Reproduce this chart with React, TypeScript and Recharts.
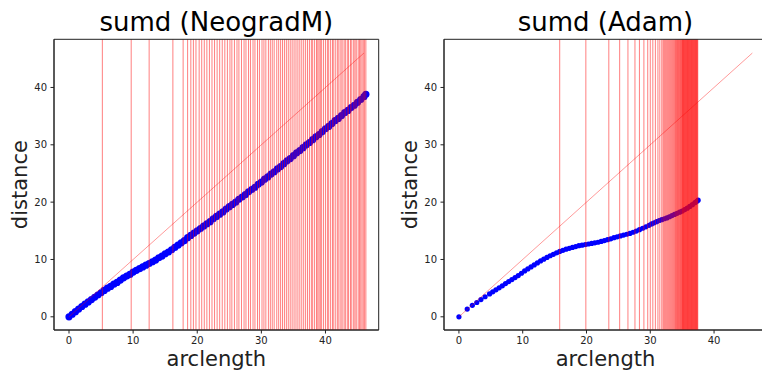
import { ScatterChart, Scatter, XAxis, YAxis, ReferenceLine, ReferenceArea } from 'recharts';

const xTicks = [0, 10, 20, 30, 40];
const yTicks = [0, 10, 20, 30, 40];
const xDomain = [-2.34, 48.3];
const yDomain = [-2.3, 48.4];
const diagonalEnd = 46;

// NeogradM: arclength vs distance
const neogradArc = [
    0, 0.5, 1, 1.5, 2, 2.5, 3, 3.5, 4, 4.5, 5, 5.5, 6, 6.5, 7, 7.5, 8, 8.5, 9, 9.5,
    10, 10.5, 11, 11.5, 12, 12.5, 13, 13.5, 14, 14.5, 15, 15.5, 16, 16.5, 17, 17.5, 18, 18.5, 19, 19.5,
    20, 20.5, 21, 21.5, 22, 22.5, 23, 23.5, 24, 24.5, 25, 25.5, 26, 26.5, 27, 27.5, 28, 28.5, 29, 29.5,
    30, 30.5, 31, 31.5, 32, 32.5, 33, 33.5, 34, 34.5, 35, 35.5, 36, 36.5, 37, 37.5, 38, 38.5, 39, 39.5,
    40, 40.5, 41, 41.5, 42, 42.5, 43, 43.5, 44, 44.5, 45, 45.5, 46, 46.3
];
const neogradDist = [
    0, 0.45, 0.9, 1.35, 1.8, 2.2, 2.6, 3.0, 3.4, 3.8, 4.2, 4.6, 5.0, 5.3, 5.7, 6.0, 6.4, 6.8, 7.1, 7.4,
    7.8, 8.1, 8.4, 8.7, 9.0, 9.3, 9.6, 9.9, 10.3, 10.6, 11.0, 11.3, 11.7, 12.1, 12.5, 12.9, 13.3, 13.8, 14.2, 14.6,
    15.0, 15.4, 15.8, 16.2, 16.6, 17.1, 17.5, 17.9, 18.3, 18.8, 19.2, 19.6, 20.0, 20.5, 20.9, 21.3, 21.8, 22.2, 22.6, 23.1,
    23.5, 24.0, 24.4, 24.9, 25.3, 25.8, 26.2, 26.7, 27.2, 27.6, 28.1, 28.6, 29.0, 29.5, 30.0, 30.4, 30.9, 31.4, 31.8, 32.3,
    32.8, 33.2, 33.7, 34.2, 34.6, 35.1, 35.6, 36.0, 36.5, 36.9, 37.4, 37.9, 38.4, 38.8
];
const neogradMarks = [
    5.2, 9.7, 12.5, 16.2, 17.8, 18.5, 19.0, 19.4, 19.8, 20.3, 20.7, 21.1, 21.5, 21.9, 22.3, 22.7, 23.1, 23.5,
    23.9, 24.3, 24.7, 25.1, 25.4, 25.8, 26.2, 26.5, 26.9, 27.3, 27.6, 28.0, 28.3, 28.7, 29.0, 29.4, 29.7, 30.1,
    30.4, 30.7, 31.1, 31.4, 31.7, 32.0, 32.4, 32.7, 33.0, 33.3, 33.6, 33.9, 34.2, 34.5, 34.8, 35.1, 35.4, 35.7,
    36.0, 36.3, 36.6, 36.9, 37.2, 37.5, 37.8, 38.0, 38.3, 38.6, 38.8, 39.0, 39.2, 39.4, 39.7, 40.0, 40.3, 40.5,
    40.8, 41.1, 41.3, 41.6, 41.9, 42.1, 42.4, 42.6, 42.9, 43.1, 43.4, 43.6, 43.9, 44.1, 44.4, 44.6, 44.8, 45.1,
    45.3, 45.5, 45.7, 45.9, 46.1, 46.3
];

// Adam: arclength vs distance
const adamArc = [
    0, 1.3, 2.1, 2.8, 3.45, 4.1, 4.8, 5.3, 5.8, 6.3, 6.8, 7.3, 7.8, 8.3, 8.8, 9.3, 9.8, 10.3, 10.8, 11.3,
    11.8, 12.3, 12.8, 13.3, 13.8, 14.3, 14.8, 15.3, 15.8, 16.3, 16.8, 17.3, 17.8, 18.3, 18.8, 19.3, 19.8, 20.3,
    20.8, 21.3, 21.8, 22.3, 22.8, 23.3, 23.8, 24.3, 24.8, 25.3, 25.8, 26.3, 26.8, 27.3, 27.8, 28.3, 28.8, 29.3,
    29.8, 30.2, 30.6, 31.0, 31.4, 31.8, 32.2, 32.6, 33.0, 33.4, 33.8, 34.2, 34.6, 35.0, 35.4, 35.8, 36.2, 36.6,
    37.0, 37.3, 37.5
];
const adamDist = [
    0, 1.35, 2.0, 2.5, 3.0, 3.5, 4.0, 4.35, 4.7, 5.05, 5.4, 5.8, 6.15, 6.5, 6.85, 7.2, 7.6, 8.0, 8.35, 8.7,
    9.05, 9.4, 9.75, 10.05, 10.35, 10.65, 10.9, 11.15, 11.4, 11.6, 11.8, 11.95, 12.1, 12.25, 12.4, 12.5, 12.6, 12.7,
    12.8, 12.9, 13.0, 13.15, 13.3, 13.45, 13.6, 13.8, 13.95, 14.1, 14.25, 14.4, 14.55, 14.75, 14.95, 15.2, 15.45, 15.7,
    15.95, 16.2, 16.4, 16.6, 16.8, 16.95, 17.1, 17.25, 17.45, 17.65, 17.85, 18.05, 18.25, 18.45, 18.7, 18.95, 19.25, 19.55,
    19.9, 20.15, 20.35
];
const adamMarks = [
    15.8, 19.9, 23.5, 25.2, 26.5, 27.6, 28.3, 29.0, 29.6, 30.0, 30.4, 30.8, 31.2, 31.5, 31.8,
    32.0, 32.15, 32.3, 32.45, 32.6, 32.75, 32.9, 33.05, 33.2, 33.35, 33.5, 33.65, 33.8, 33.95,
    34.05, 34.15, 34.25, 34.35, 34.45, 34.55, 34.65, 34.75, 34.85, 34.95,
    35.0, 35.07, 35.14, 35.21, 35.28, 35.35, 35.42, 35.49, 35.56, 35.63, 35.7, 35.77, 35.84, 35.91, 35.98,
    36.05, 36.12, 36.19, 36.26, 36.33, 36.4, 36.47, 36.54, 36.61, 36.68, 36.75, 36.82, 36.89, 36.96,
    37.03, 37.1, 37.17, 37.24, 37.31, 37.38, 37.45
];

const font = '"DejaVu Sans", sans-serif';
const ink = '#222';

function Panel({ title, arc, dist, marks, left, width, marginRight, dotR }: any) {
    const points = arc.map((x: number, i: number) => ({ x, y: dist[i] }));

    return (
        <div style={{ position: 'absolute', left, top: 0 }}>
            <ScatterChart width={width} height={373} margin={{ top: 39.3, right: marginRight, bottom: 0, left: 0 }}>
                <XAxis
                    type="number"
                    dataKey="x"
                    domain={xDomain}
                    ticks={xTicks}
                    allowDataOverflow
                    height={43}
                    tickSize={3.5}
                    tickMargin={3}
                    tick={{ fontSize: 10, fill: ink, fontFamily: font }}
                    axisLine={{ stroke: ink }}
                    tickLine={{ stroke: ink }}
                    label={(p: any) => {
                        const vb = p.viewBox;
                        const cx = vb.x + vb.width / 2;
                        return (
                            <g>
                                <text x={cx} y={31} textAnchor="middle" fontSize={26} fontFamily={font} fill="#000">{title}</text>
                                <text x={cx} y={vb.y + 36} textAnchor="middle" fontSize={21} fontFamily={font} fill={ink}>arclength</text>
                            </g>
                        );
                    }}
                />
                <YAxis
                    type="number"
                    dataKey="y"
                    domain={yDomain}
                    ticks={yTicks}
                    allowDataOverflow
                    width={54}
                    tickSize={3.5}
                    tickMargin={3.5}
                    tick={{ fontSize: 10, fill: ink, fontFamily: font }}
                    axisLine={{ stroke: ink }}
                    tickLine={{ stroke: ink }}
                    label={(p: any) => {
                        const vb = p.viewBox;
                        const tx = vb.x + 27;
                        const ty = vb.y + vb.height / 2;
                        return (
                            <text x={tx} y={ty} transform={`rotate(-90 ${tx} ${ty})`} textAnchor="middle" fontSize={21} fontFamily={font} fill={ink}>distance</text>
                        );
                    }}
                />
                <Scatter
                    data={points}
                    isAnimationActive={false}
                    zIndex={100}
                    shape={(p: any) => <circle cx={p.cx} cy={p.cy} r={dotR} fill="#0000ff" />}
                />
                {marks.map((m: number, i: number) => (
                    <ReferenceLine key={`m-${i}`} x={m} zIndex={900} stroke="#ff0000" strokeOpacity={0.5} strokeWidth={1} />
                ))}
                <ReferenceLine
                    segment={[{ x: 0, y: 0 }, { x: diagonalEnd, y: diagonalEnd }]}
                    zIndex={900}
                    stroke="#ff0000"
                    strokeOpacity={0.4}
                    strokeWidth={1}
                />
                <ReferenceArea
                    x1={xDomain[0]}
                    x2={xDomain[1]}
                    y1={yDomain[0]}
                    y2={yDomain[1]}
                    zIndex={950}
                    fill="none"
                    fillOpacity={0}
                    stroke={ink}
                    strokeWidth={1}
                />
            </ScatterChart>
        </div>
    );
}

export default function App() {
    return (
        <div style={{ position: 'absolute', left: 0, top: 0, width: 762, height: 373, overflow: 'hidden', background: '#fff' }}>
            <Panel title="sumd (NeogradM)" arc={neogradArc} dist={neogradDist} marks={neogradMarks} left={0} width={380} marginRight={1.3} dotR={3.6} />
            <Panel title="sumd (Adam)" arc={adamArc} dist={adamDist} marks={adamMarks} left={390} width={377} marginRight={0} dotR={2.6} />
        </div>
    );
}
